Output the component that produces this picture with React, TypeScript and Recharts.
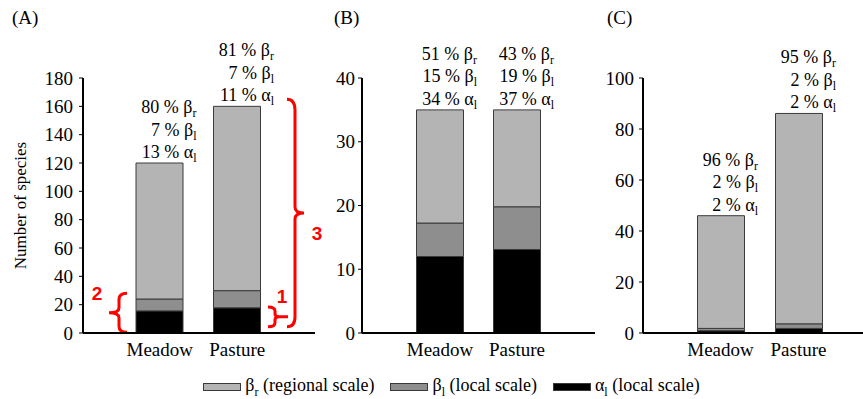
import React from 'react';
import { BarChart, Bar, XAxis, YAxis, LabelList, ReferenceArea } from 'recharts';

const categories = ['Meadow', 'Pasture'];

// panel A
const alphaA = [15.6, 17.8];
const betaLA = [8.4, 12.1];
const betaRA = [96, 130.1];
const pctA = { betaR: [80, 81], betaL: [7, 7], alpha: [13, 11] };
const ticksA = [0, 20, 40, 60, 80, 100, 120, 140, 160, 180];

// panel B
const alphaB = [12, 13.1];
const betaLB = [5.25, 6.7];
const betaRB = [17.75, 15.2];
const pctB = { betaR: [51, 43], betaL: [15, 19], alpha: [34, 37] };
const ticksB = [0, 10, 20, 30, 40];

// panel C
const alphaC = [0.9, 1.8];
const betaLC = [0.9, 1.8];
const betaRC = [44.2, 82.5];
const pctC = { betaR: [96, 95], betaL: [2, 2], alpha: [2, 2] };
const ticksC = [0, 20, 40, 60, 80, 100];

const COL_BR = '#b4b4b4';
const COL_BL = '#8e8e8e';
const COL_A = '#000000';
const EDGE = '#3a3a3a';
const SERIF = '"Liberation Serif", "Times New Roman", Tinos, "Noto Serif", "DejaVu Serif", FreeSerif, "Nimbus Roman", serif';
const SANS = '"Liberation Sans", Arial, sans-serif';
const RED = '#ff0000';

const makeRows = (a: number[], bl: number[], br: number[]) =>
  categories.map((name, i) => ({ name, alpha: a[i], betaL: bl[i], betaR: br[i] }));

const PctLabel = (pct: any) => (props: any) => {
  const { x, y, width, index } = props;
  const right = x + width / 2 + 37;
  const lines = [
    { v: pct.betaR[index], g: 'β', s: 'r' },
    { v: pct.betaL[index], g: 'β', s: 'l' },
    { v: pct.alpha[index], g: 'α', s: 'l' },
  ];
  return (
    <g>
      {lines.map((l, k) => (
        <text key={k} x={right} y={y - 50 + k * 22.5} textAnchor="end" fontSize={18} fontFamily={SERIF} fill="#000">
          {`${l.v} % ${l.g}`}
          <tspan dy={4} fontSize={12}>{l.s}</tspan>
        </text>
      ))}
    </g>
  );
};

// x passed to these shapes is the left end of the padded category range
const BraceLeft = (props: any) => {
  const { x, y, height } = props;
  const top = y, bot = y + height, mid = y + height / 2;
  const sx = x - 2;
  return (
    <g>
      <path
        d={`M${sx + 8},${top} Q${sx},${top} ${sx},${top + 6} L${sx},${mid - 5} Q${sx},${mid} ${sx - 10},${mid} Q${sx},${mid} ${sx},${mid + 5} L${sx},${bot - 6} Q${sx},${bot} ${sx + 8},${bot}`}
        fill="none" stroke={RED} strokeWidth={3}
      />
      <text x={x - 24} y={top + 7} textAnchor="middle" fontSize={19} fontWeight="bold" fontFamily={SANS} fill={RED}>2</text>
    </g>
  );
};

const BraceSmall = (props: any) => {
  const { x, y, height } = props;
  const top = y, bot = y + height, mid = y + height / 2;
  const ex = x + 147, sx = x + 154;
  return (
    <g>
      <path
        d={`M${ex},${top} Q${sx},${top} ${sx},${top + 4} L${sx},${mid - 3} Q${sx},${mid} ${sx + 4},${mid} L${sx + 13},${mid} M${sx + 4},${mid} Q${sx},${mid} ${sx},${mid + 3} L${sx},${bot - 4} Q${sx},${bot} ${ex},${bot}`}
        fill="none" stroke={RED} strokeWidth={3}
      />
      <text x={x + 161} y={top - 4} textAnchor="middle" fontSize={19} fontWeight="bold" fontFamily={SANS} fill={RED}>1</text>
    </g>
  );
};

const BraceBig = (props: any) => {
  const { x, y, height } = props;
  const top = y, bot = y + height, mid = y + height / 2;
  const ex = x + 166, sx = x + 174;
  return (
    <g>
      <path
        d={`M${ex},${top} Q${sx},${top} ${sx},${top + 11} L${sx},${mid - 6} Q${sx},${mid} ${sx + 9},${mid} Q${sx},${mid} ${sx},${mid + 6} L${sx},${bot - 10} Q${sx},${bot} ${ex},${bot}`}
        fill="none" stroke={RED} strokeWidth={3}
      />
      <text x={x + 196} y={mid + 27} textAnchor="middle" fontSize={19} fontWeight="bold" fontFamily={SANS} fill={RED}>3</text>
    </g>
  );
};

type PanelProps = {
  rows: any[];
  pct: any;
  ticks: number[];
  left: number;
  width: number;
  right: number;
  yWidth: number;
  tickMargin: number;
  padL: number;
  padR: number;
  yLabel?: string;
  children?: React.ReactNode;
};

const Panel = ({ rows, pct, ticks, left, width, right, yWidth, tickMargin, padL, padR, yLabel, children }: PanelProps) => (
  <div style={{ position: 'absolute', left, top: 0 }}>
    <BarChart width={width} height={370} data={rows} margin={{ top: 78, right, bottom: 7, left: 0 }} barSize={47}>
      <XAxis
        dataKey="name"
        height={30}
        padding={{ left: padL, right: padR }}
        tickLine={false}
        tickSize={0}
        tickMargin={10}
        axisLine={{ stroke: '#000', strokeWidth: 2 }}
        tick={{ fontSize: 19, fill: '#000', fontFamily: SERIF }}
      />
      <YAxis
        width={yWidth}
        domain={[ticks[0], ticks[ticks.length - 1]]}
        ticks={ticks}
        interval={0}
        tickSize={4}
        tickMargin={tickMargin}
        axisLine={{ stroke: '#000', strokeWidth: 2 }}
        tickLine={{ stroke: '#000', strokeWidth: 1 }}
        tick={{ fontSize: 19, fill: '#000', fontFamily: SERIF }}
        label={yLabel ? { value: yLabel, angle: -90, position: 'insideLeft', offset: 20, style: { textAnchor: 'middle', fontSize: 17, fontFamily: SERIF, fill: '#000' } } : undefined}
      />
      <Bar dataKey="alpha" stackId="s" fill={COL_A} stroke={EDGE} strokeWidth={1} isAnimationActive={false} />
      <Bar dataKey="betaL" stackId="s" fill={COL_BL} stroke={EDGE} strokeWidth={1} isAnimationActive={false} />
      <Bar dataKey="betaR" stackId="s" fill={COL_BR} stroke={EDGE} strokeWidth={1} isAnimationActive={false}>
        <LabelList dataKey="betaR" content={PctLabel(pct)} />
      </Bar>
      {children}
    </BarChart>
  </div>
);

const legendItems = [
  { g: 'β', s: 'r', text: ' (regional scale)', color: COL_BR },
  { g: 'β', s: 'l', text: ' (local scale)', color: COL_BL },
  { g: 'α', s: 'l', text: ' (local scale)', color: COL_A },
];

const panelTitles = [
  { t: '(A)', left: 12 },
  { t: '(B)', left: 334 },
  { t: '(C)', left: 607 },
];

export default function App() {
  return (
    <div style={{ position: 'absolute', left: 0, top: 0, width: 863, height: 399, background: '#fff', overflow: 'hidden', fontFamily: SERIF }}>
      {panelTitles.map((p) => (
        <div key={p.t} style={{ position: 'absolute', left: p.left, top: 7, fontSize: 19, color: '#000' }}>{p.t}</div>
      ))}
      <Panel rows={makeRows(alphaA, betaLA, betaRA)} pct={pctA} ticks={ticksA} left={0} width={340} right={25} yWidth={83} tickMargin={6} padL={38} padR={39} yLabel="Number of species">
        <ReferenceArea y1={0.5} y2={28} ifOverflow="visible" shape={BraceLeft} />
        <ReferenceArea y1={4.5} y2={18.3} ifOverflow="visible" shape={BraceSmall} />
        <ReferenceArea y1={4.5} y2={165} ifOverflow="visible" shape={BraceBig} />
      </Panel>
      <Panel rows={makeRows(alphaB, betaLB, betaRB)} pct={pctB} ticks={ticksB} left={310} width={285} right={0} yWidth={52} tickMargin={3} padL={39.5} padR={39.5} />
      <Panel rows={makeRows(alphaC, betaLC, betaRC)} pct={pctC} ticks={ticksC} left={595} width={268} right={0} yWidth={48} tickMargin={5} padL={38.5} padR={25.5} />
      <div style={{ position: 'absolute', left: 20, width: 863, top: 375, display: 'flex', justifyContent: 'center', gap: 16, fontSize: 18, color: '#000', whiteSpace: 'nowrap' }}>
        {legendItems.map((it, i) => (
          <div key={i} style={{ display: 'flex', alignItems: 'center' }}>
            <span style={{ display: 'inline-block', width: 36, height: 6, background: it.color, border: `1px solid ${EDGE}`, marginRight: 4 }} />
            <span>
              {it.g}
              <sub style={{ fontSize: 12 }}>{it.s}</sub>
              {it.text}
            </span>
          </div>
        ))}
      </div>
    </div>
  );
}
